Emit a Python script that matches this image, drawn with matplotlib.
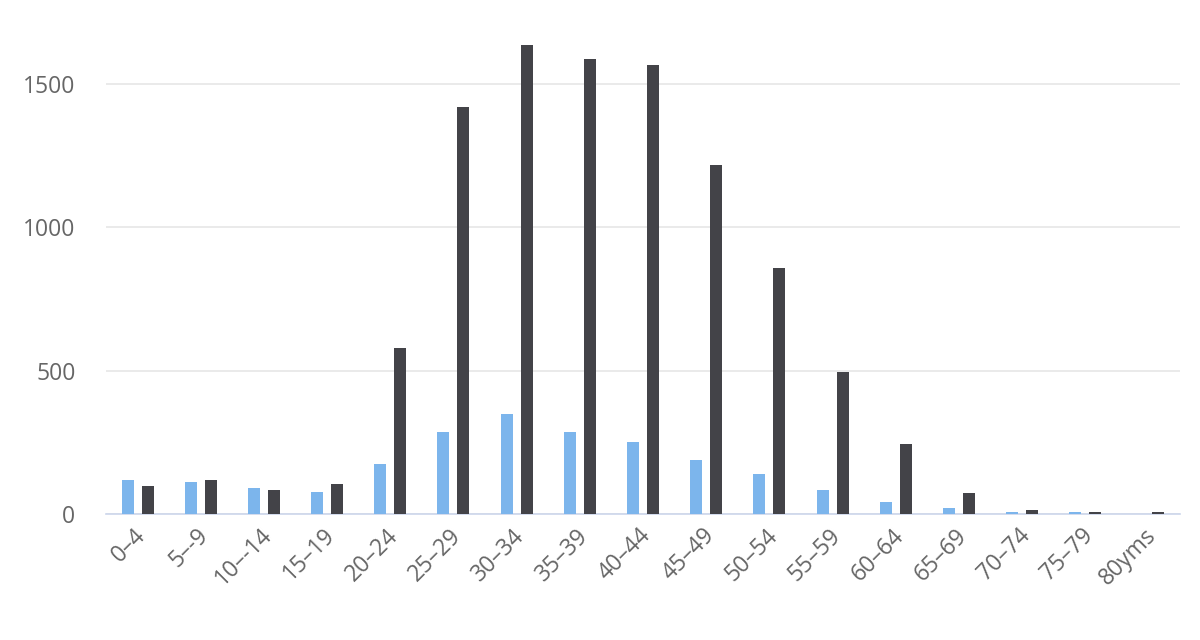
import matplotlib
matplotlib.use("Agg")
import matplotlib.pyplot as plt
import matplotlib.transforms as mtransforms
import numpy as np

plt.rcParams['font.family'] = ['Open Sans', 'DejaVu Sans']

categories = ['0–4', '5–-9', '10–-14', '15–19', '20–24', '25–29', '30–34', '35–39',
              '40–44', '45–49', '50–54', '55–59', '60–64', '65–69', '70–74', '75–79', '80yms']
series_a = [119, 112, 91, 77, 175, 287, 350, 287, 252, 189, 140, 84, 42, 21, 7, 7, 0]
series_b = [98, 119, 84, 105, 580, 1420, 1636, 1587, 1566, 1217, 860, 497, 245, 73, 14, 7, 7]

color_a = '#7cb5ec'
color_b = '#434348'

fig = plt.figure(figsize=(12, 6.4), dpi=100)
ax = fig.add_axes([106 / 1200, 1 - 514 / 640, 1074 / 1200, 502 / 640])

x = np.arange(len(categories))
w = 0.19
off = 0.158
ax.bar(x - off, series_a, width=w, color=color_a, zorder=3)
ax.bar(x + off, series_b, width=w, color=color_b, zorder=3)

ax.set_xlim(-0.5, len(categories) - 0.5)
ax.set_ylim(0, 1752)
ax.set_yticks([0, 500, 1000, 1500])
ax.yaxis.grid(True, color='#e6e6e6', linewidth=1.2, zorder=0)
ax.set_axisbelow(True)

for s in ['top', 'right', 'left']:
    ax.spines[s].set_visible(False)
ax.spines['bottom'].set_color('#ccd6eb')
ax.spines['bottom'].set_linewidth(1.2)

ax.set_xticks(x)
ax.set_xticklabels(categories, rotation=45, ha='right', rotation_mode='anchor')
ax.tick_params(axis='x', length=0, pad=7, labelsize=16.5, labelcolor='#666666')
ax.tick_params(axis='y', length=0, pad=22, labelsize=16.5, labelcolor='#666666')

shift = mtransforms.ScaledTranslation(-4 / 100, 0, fig.dpi_scale_trans)
for lbl in ax.get_xticklabels():
    lbl.set_transform(lbl.get_transform() + shift)

fig.savefig('out.png', dpi=100, facecolor='white')
